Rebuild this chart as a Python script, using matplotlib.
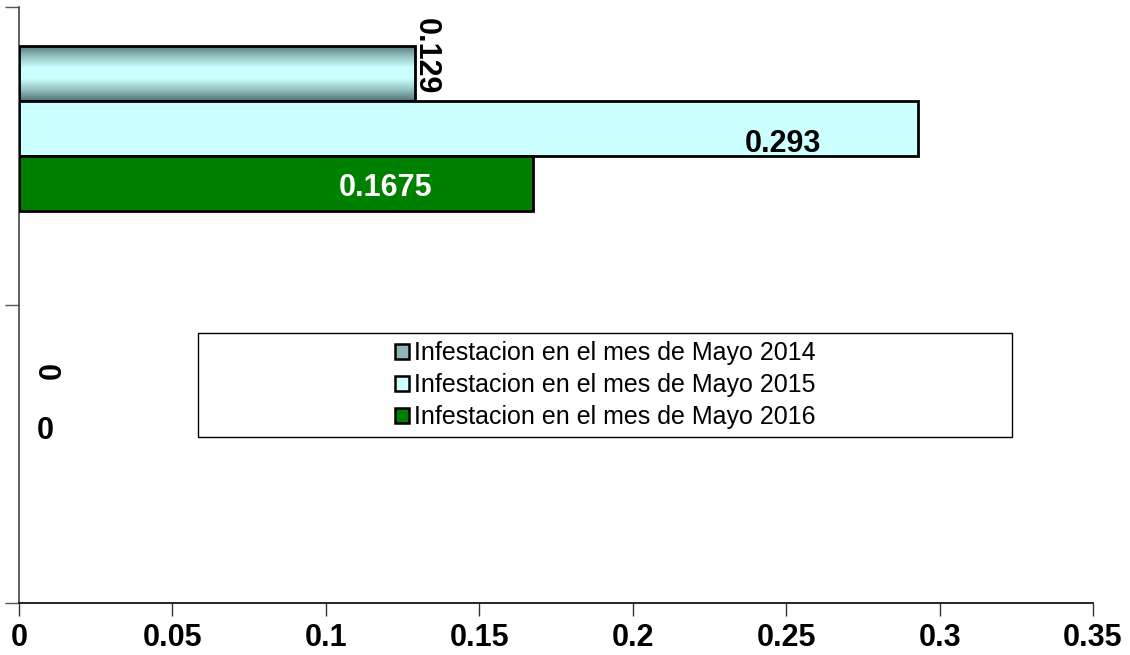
import numpy as np
import matplotlib.pyplot as plt
from matplotlib.patches import Rectangle

# data
categories = ['A', 'B']          # bottom group, top group
series = ['Infestacion en el mes de Mayo 2014',
          'Infestacion en el mes de Mayo 2015',
          'Infestacion en el mes de Mayo 2016']
values_2014 = [0, 0.129]
values_2015 = [0, 0.293]
values_2016 = [0, 0.1675]
labels_2014 = ['0', '0.129']
labels_2015 = ['0', '0.293']
labels_2016 = ['0', '0.1675']
xticks = [0, 0.05, 0.1, 0.15, 0.2, 0.25, 0.3, 0.35]

plt.rcParams['font.family'] = ['Liberation Sans', 'DejaVu Sans']

fig = plt.figure(figsize=(11.3, 6.55), dpi=100)
ax = fig.add_axes([19/1130, 1 - 602.5/655, (1093 - 19)/1130, (602.5 - 7)/655])

h = 0.185
offsets = [1.5*h, 0.5*h, -0.5*h]   # 4th (empty) slot at -1.5h
y = np.arange(len(categories))

# 2014 bar: grey-teal gradient
grad_cmap = plt.matplotlib.colors.LinearSegmentedColormap.from_list(
    'g', ['#557373', '#94c2c2', '#ccffff', '#ccffff', '#94c2c2', '#557373'])
for i, v in enumerate(values_2014):
    yc = y[i] + offsets[0]
    if v > 0:
        rect = Rectangle((0, yc - h/2), v, h, facecolor='none', edgecolor='black', lw=2, zorder=3)
        ax.add_patch(rect)
        im = ax.imshow(np.linspace(0, 1, 100).reshape(-1, 1), cmap=grad_cmap, aspect='auto',
                       extent=[0, v, yc - h/2, yc + h/2], zorder=2)
        im.set_clip_path(rect)
lw15 = [2 if v > 0 else 0 for v in values_2015]
lw16 = [2 if v > 0 else 0 for v in values_2016]
ax.barh(y + offsets[1], values_2015, height=h, color='#ccffff', edgecolor='black', lw=lw15, zorder=3)
ax.barh(y + offsets[2], values_2016, height=h, color='#008000', edgecolor='black', lw=lw16, zorder=3)

bold = dict(fontsize=22, fontweight='bold')
# labels
for i, v in enumerate(values_2014):
    yc = y[i] + offsets[0]
    if v > 0:
        ax.text(v + 0.0037, yc + 0.057, labels_2014[i], rotation=270,
                ha='center', va='center', **bold, zorder=5)
    else:
        ax.text(0.0085, yc - 0.005, labels_2014[i], rotation=270,
                ha='center', va='center', **bold, zorder=5)
for i, v in enumerate(values_2015):
    yc = y[i] + offsets[1]
    if v > 0:
        ax.text(v - 0.044, yc - 0.053, labels_2015[i], ha='center', va='center', **bold, zorder=5)
    else:
        ax.text(0.0085, yc - 0.015, labels_2015[i], ha='center', va='center', **bold, zorder=5)
for i, v in enumerate(values_2016):
    yc = y[i] + offsets[2]
    ax.text(v - 0.048 if v > 0 else 0.0085, yc - 0.015, labels_2016[i], ha='center', va='center',
            color='white', **bold, zorder=5)

ax.set_xlim(0, 0.35)
ax.set_ylim(-0.5, 1.5)
ax.set_xticks(xticks)
ax.set_xticklabels([f'{t:g}' for t in xticks], fontsize=22, fontweight='bold')
ax.set_yticks([-0.5, 0.5, 1.5])
ax.set_yticklabels([])
ax.tick_params(axis='x', length=9, width=1, color='#333333', pad=6)
ax.tick_params(axis='y', length=10, width=1, color='#555555')
for s in ['top', 'right']:
    ax.spines[s].set_visible(False)
ax.spines['left'].set_color('#444444')
ax.spines['bottom'].set_color('black')
ax.spines['left'].set_linewidth(1.2)
ax.spines['bottom'].set_linewidth(1.2)

# legend box drawn separately, entries centred inside it
bx0, bx1, by0, by1 = 198, 1012, 333, 437
fig.patches.append(Rectangle((bx0/1130, 1 - by1/655), (bx1 - bx0)/1130, (by1 - by0)/655,
                             transform=fig.transFigure, facecolor='white',
                             edgecolor='black', lw=1, zorder=4))
handles = [Rectangle((0, 0), 1, 1, facecolor=c, edgecolor='black', lw=1.8)
           for c in ['#8fb5b5', '#ccffff', '#008000']]
leg = fig.legend(handles, series, loc='center',
                 bbox_to_anchor=((bx0 + bx1)/2/1130, 1 - (by0 + by1)/2/655),
                 frameon=False, fontsize=18,
                 handlelength=0.55, handleheight=0.55, handletextpad=0.2,
                 labelspacing=0.32, borderaxespad=0, borderpad=0)
leg.set_zorder(6)

fig.savefig('out.png', dpi=100)
